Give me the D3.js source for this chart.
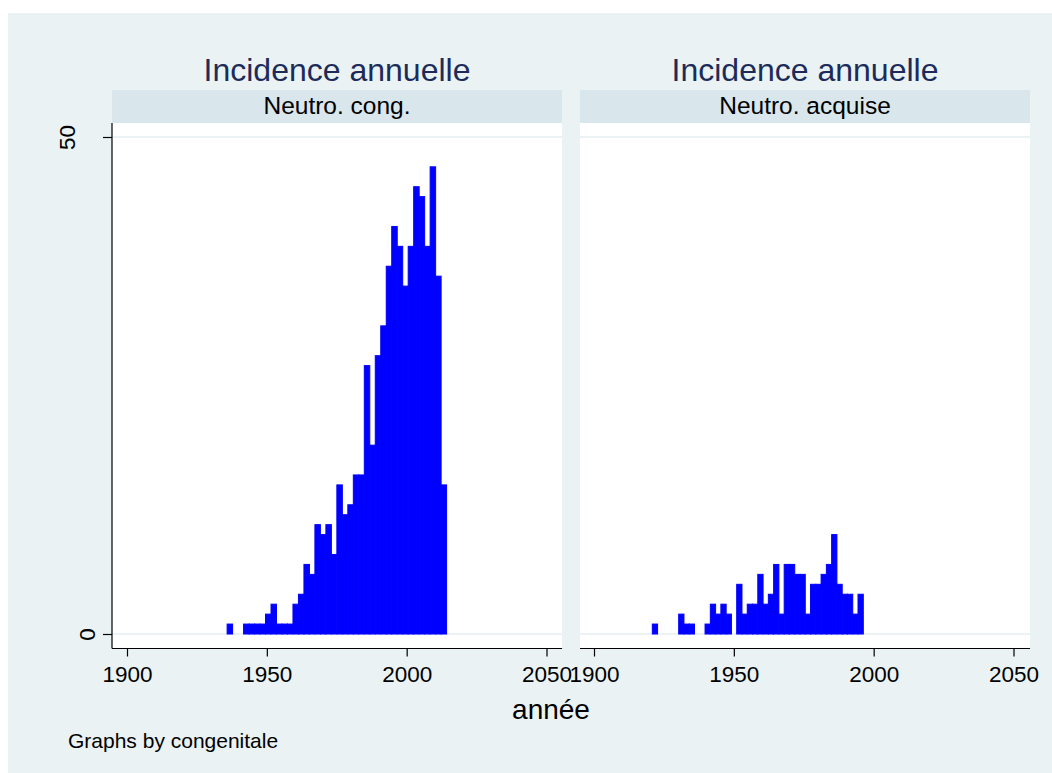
<!DOCTYPE html>
<html>
<head>
<meta charset="utf-8">
<script src="https://cdn.jsdelivr.net/npm/d3@7/dist/d3.min.js"></script>
<style>
  html, body { margin: 0; padding: 0; background: #ffffff; }
  svg text { font-family: "Liberation Sans", Arial, Helvetica, sans-serif; }
</style>
</head>
<body>
<svg id="chart" width="1052" height="773"></svg>
<script>
// ---- data ----
const panelTitles = ["Incidence annuelle", "Incidence annuelle"];
const stripLabels = ["Neutro. cong.", "Neutro. acquise"];
// frequency per bin, 40 bins per panel
const countsCong = [1,0,0,1,1,1,1,2,3,1, 1,1,3,4,7,6,11,10,11,8,
                    15,12,13,16,16,27,19,28,31,37, 41,39,35,39,45,44,39,47,36,15];
const countsAcq  = [1,0,0,0,0,2,1,1,0,0, 1,3,2,3,2,0,5,2,3,3,
                    6,3,4,7,2,7,7,6,6,2, 5,5,6,7,10,5,4,4,2,4];
const binStarts = [1935.8, 1920.85];   // first bin lower edge (year)
const binWidths = [1.962, 1.886];      // bin width (years)
const xTicks = [1900, 1950, 2000, 2050];
const yTicks = [0, 50];
const xDomain = [1900, 2050];
const yDomain = [0, 50];
const xTitle = "année";
const note = "Graphs by congenitale";

// ---- layout ----
const svg = d3.select("#chart");
const W = 1052, H = 773;
const font = '"Liberation Sans", Arial, Helvetica, sans-serif';

svg.append("rect").attr("x", 8).attr("y", 13).attr("width", W - 8).attr("height", H - 13)
  .attr("fill", "#eaf2f3");

const panelsPos = [
  { left: 112, right: 562, x0: 127, x1: 546.5 },
  { left: 580, right: 1030, x0: 594, x1: 1013.5 }
];
const stripTop = 90, stripBottom = 123, plotBottom = 648.5;
const y = d3.scaleLinear().domain(yDomain).range([634, 137]);
const seriesCounts = [countsCong, countsAcq];

panelsPos.forEach((p, k) => {
  const g = svg.append("g");
  const x = d3.scaleLinear().domain(xDomain).range([p.x0, p.x1]);

  // title
  g.append("text").attr("x", (p.left + p.right) / 2).attr("y", 81)
    .attr("text-anchor", "middle").attr("font-size", 32).attr("fill", "#1c2b5a")
    .text(panelTitles[k]);
  // strip
  g.append("rect").attr("x", p.left).attr("y", stripTop).attr("width", p.right - p.left)
    .attr("height", stripBottom - stripTop).attr("fill", "#d9e6eb");
  g.append("text").attr("x", (p.left + p.right) / 2).attr("y", 114)
    .attr("text-anchor", "middle").attr("font-size", 24.5).attr("fill", "#000")
    .text(stripLabels[k]);
  // plot region
  g.append("rect").attr("x", p.left).attr("y", stripBottom).attr("width", p.right - p.left)
    .attr("height", plotBottom - stripBottom).attr("fill", "#ffffff");
  // gridlines
  g.selectAll("line.grid").data(yTicks).join("line").attr("class", "grid")
    .attr("x1", p.left).attr("x2", p.right)
    .attr("y1", d => y(d)).attr("y2", d => y(d))
    .attr("stroke", "#e6eff2").attr("stroke-width", 1.5);

  // bars
  const counts = seriesCounts[k];
  const bins = counts.map((c, i) => ({
    x0: binStarts[k] + i * binWidths[k],
    x1: binStarts[k] + (i + 1) * binWidths[k],
    c: c
  })).filter(b => b.c > 0);
  g.selectAll("rect.bar").data(bins).join("rect").attr("class", "bar")
    .attr("x", d => x(d.x0)).attr("width", d => x(d.x1) - x(d.x0))
    .attr("y", d => y(d.c)).attr("height", d => y(0) - y(d.c))
    .attr("fill", "#0000ff").attr("stroke", "#0000ff").attr("stroke-width", 1);

  // x axis
  const xa = g.append("g").attr("transform", `translate(0,${plotBottom})`)
    .call(d3.axisBottom(x).tickValues(xTicks).tickSize(8).tickPadding(9.5).tickFormat(d3.format("d")));
  xa.select(".domain").remove();
  xa.selectAll(".tick line").attr("stroke", "#000").attr("stroke-width", 1.2);
  xa.selectAll(".tick text").attr("font-size", 22.5).attr("font-family", font).attr("fill", "#000");
  g.append("line").attr("x1", p.left).attr("x2", p.right).attr("y1", plotBottom).attr("y2", plotBottom)
    .attr("stroke", "#000").attr("stroke-width", 1.2);

  // y axis (left panel only)
  if (k === 0) {
    const ya = g.append("g").attr("transform", `translate(${p.left},0)`)
      .call(d3.axisLeft(y).tickValues(yTicks).tickSize(9).tickFormat(d3.format("d")));
    ya.select(".domain").remove();
    ya.selectAll(".tick line").attr("stroke", "#000").attr("stroke-width", 1.2);
    ya.selectAll(".tick text")
      .attr("font-size", 22.5).attr("font-family", font).attr("fill", "#000")
      .attr("text-anchor", "middle")
      .attr("x", null).attr("dy", null)
      .attr("transform", d => `translate(${String(d).length > 1 ? -37 : -17},0) rotate(-90)`);
    g.append("line").attr("x1", p.left).attr("x2", p.left).attr("y1", stripBottom).attr("y2", plotBottom)
      .attr("stroke", "#000").attr("stroke-width", 1.2);
  }
});

// axis title & note
svg.append("text").attr("x", 551).attr("y", 719).attr("text-anchor", "middle")
  .attr("font-size", 28).attr("fill", "#000").text(xTitle);
svg.append("text").attr("x", 68).attr("y", 748).attr("font-size", 21).attr("fill", "#000").text(note);
</script>
</body>
</html>
